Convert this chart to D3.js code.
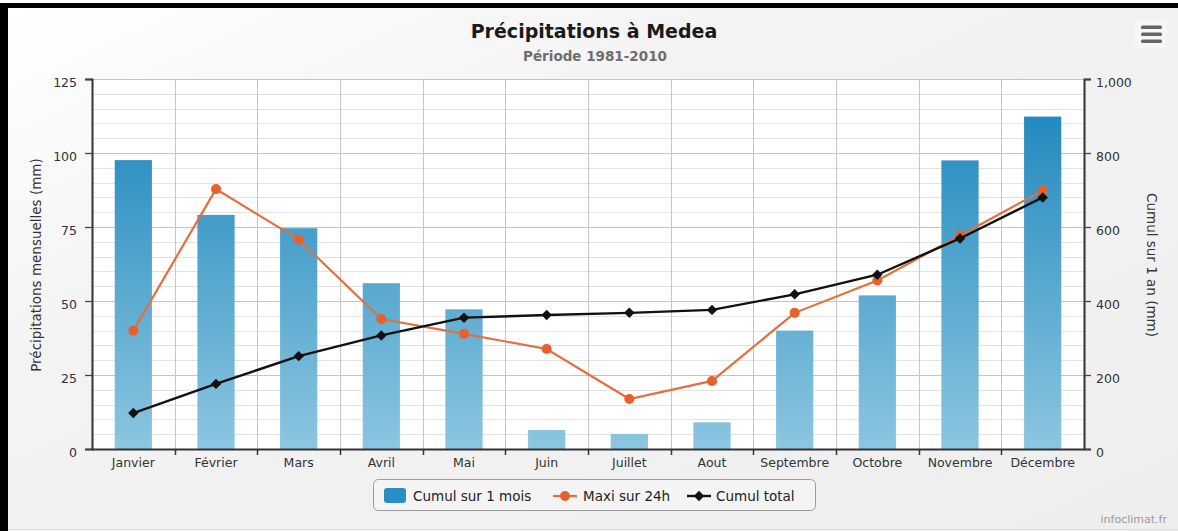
<!DOCTYPE html>
<html>
<head>
<meta charset="utf-8">
<script src="https://cdn.jsdelivr.net/npm/d3@7/dist/d3.min.js"></script>
<style>
  html, body { margin: 0; padding: 0; background: #fff; }
  svg { display: block; font-family: "DejaVu Sans", Verdana, sans-serif; }
</style>
</head>
<body>
<svg id="chart" width="1178" height="531"></svg>
<script>
// Monthly precipitation at Medea, 1981-2010 normals
const months = ["Janvier", "Février", "Mars", "Avril", "Mai", "Juin", "Juillet", "Aout", "Septembre", "Octobre", "Novembre", "Décembre"];
const cumulMois = [97.6, 79.1, 74.6, 56.0, 47.2, 6.4, 5.1, 9.0, 40.0, 51.9, 97.5, 112.3];   // mm, left axis
const maxi24h   = [40.0, 87.8, 70.8, 43.9, 38.9, 33.8, 16.9, 23.0, 46.0, 56.9, 72.1, 87.3];  // mm, left axis
const cumulTotal = [97, 176, 251, 307, 355, 362, 368, 376, 418, 471, 569, 680];             // mm, right axis
const leftTicks  = [0, 25, 50, 75, 100, 125];
const rightTicks = [0, 200, 400, 600, 800, 1000];

const svg = d3.select("#chart");
const W = 1178, H = 531;
const m = { left: 92, top: 79, right: 94, bottom: 82 };
const pw = W - m.left - m.right;   // 992
const ph = H - m.top - m.bottom;   // 370

const defs = svg.append("defs");
const bg = defs.append("linearGradient").attr("id", "bg")
  .attr("x1", 0).attr("y1", 0).attr("x2", 1).attr("y2", 1);
bg.append("stop").attr("offset", 0).attr("stop-color", "#ffffff");
bg.append("stop").attr("offset", 0.35).attr("stop-color", "#f3f3f3");
bg.append("stop").attr("offset", 1).attr("stop-color", "#eeeeee");

const barGrad = defs.append("linearGradient").attr("id", "barGrad")
  .attr("gradientUnits", "userSpaceOnUse")
  .attr("x1", 0).attr("y1", 0).attr("x2", 0).attr("y2", ph);
barGrad.append("stop").attr("offset", 0).attr("stop-color", "#1883bb");
barGrad.append("stop").attr("offset", 1).attr("stop-color", "#8cc6e0");

// chart background and frame
svg.append("rect").attr("width", W).attr("height", H).attr("fill", "url(#bg)");
svg.append("rect").attr("x", 0).attr("y", 3).attr("width", W).attr("height", 5).attr("fill", "#000");
svg.append("rect").attr("x", 0).attr("y", 3).attr("width", 8).attr("height", H - 3).attr("fill", "#000");
svg.append("rect").attr("x", 0).attr("y", 0).attr("width", W).attr("height", 3).attr("fill", "#fff");
svg.append("line").attr("x1", 8).attr("x2", W).attr("y1", 529.5).attr("y2", 529.5).attr("stroke", "#dcdcdc");

// titles
svg.append("text").attr("x", 594).attr("y", 38).attr("text-anchor", "middle")
  .attr("font-size", 19).attr("font-weight", "bold").attr("fill", "#1a1a1a")
  .text("Précipitations à Medea");
svg.append("text").attr("x", 595).attr("y", 61).attr("text-anchor", "middle")
  .attr("font-size", 13.5).attr("font-weight", "bold").attr("fill", "#6e6e6e")
  .text("Période 1981-2010");

// menu button
const menu = svg.append("g").attr("transform", "translate(1135,20)");
menu.append("rect").attr("width", 32).attr("height", 28).attr("rx", 3).attr("fill", "#f7f7f7");
[7, 14, 21].forEach(y => menu.append("rect").attr("x", 6).attr("y", y - 1.5)
  .attr("width", 21).attr("height", 3.5).attr("rx", 1.5).attr("fill", "#666"));

const g = svg.append("g").attr("transform", `translate(${m.left},${m.top})`);

const x = d3.scaleBand().domain(months).range([0, pw]);
const yL = d3.scaleLinear().domain([0, 125]).range([ph, 0]);
const yR = d3.scaleLinear().domain([0, 1000]).range([ph, 0]);

g.append("rect").attr("width", pw).attr("height", ph).attr("fill", "#fff");

// minor and major horizontal grid
g.append("g").selectAll("line").data(d3.range(0, 126, 5).filter(v => v % 25 !== 0)).join("line")
  .attr("x1", 0).attr("x2", pw).attr("y1", d => Math.round(yL(d)) + 0.5).attr("y2", d => Math.round(yL(d)) + 0.5)
  .attr("stroke", "#e2e2e2");
g.append("g").selectAll("line").data(leftTicks).join("line")
  .attr("x1", 0).attr("x2", pw).attr("y1", d => Math.round(yL(d)) + 0.5).attr("y2", d => Math.round(yL(d)) + 0.5)
  .attr("stroke", "#c4c4c4");
// vertical grid at category boundaries
g.append("g").selectAll("line").data(months.slice(1)).join("line")
  .attr("x1", d => Math.round(x(d)) + 0.5).attr("x2", d => Math.round(x(d)) + 0.5)
  .attr("y1", 0).attr("y2", ph).attr("stroke", "#c8c8c8");

// monthly bars
const barW = x.bandwidth() * 0.45;
g.append("g").selectAll("rect").data(months).join("rect")
  .attr("x", d => x(d) + (x.bandwidth() - barW) / 2)
  .attr("y", (d, i) => yL(cumulMois[i]))
  .attr("width", barW)
  .attr("height", (d, i) => ph - yL(cumulMois[i]))
  .attr("fill", "url(#barGrad)");

const cx = d => x(d) + x.bandwidth() / 2;

// maximum in 24h
const orange = "#e8612c";
g.append("path").datum(maxi24h)
  .attr("fill", "none").attr("stroke", "#e2703f").attr("stroke-width", 2.2)
  .attr("d", d3.line().x((d, i) => cx(months[i])).y(d => yL(d)));
g.append("g").selectAll("circle").data(maxi24h).join("circle")
  .attr("cx", (d, i) => cx(months[i])).attr("cy", d => yL(d)).attr("r", 5)
  .attr("fill", orange);

// running total
g.append("path").datum(cumulTotal)
  .attr("fill", "none").attr("stroke", "#111").attr("stroke-width", 2.4)
  .attr("d", d3.line().x((d, i) => cx(months[i])).y(d => yR(d)));
g.append("g").selectAll("path.dm").data(cumulTotal).join("path")
  .attr("class", "dm")
  .attr("d", d3.symbol().type(d3.symbolDiamond2).size(70))
  .attr("transform", (d, i) => `translate(${cx(months[i])},${yR(d)})`)
  .attr("fill", "#111");

// axes
const fmt = d3.format(",");
const axL = g.append("g").call(d3.axisLeft(yL).tickValues(leftTicks).tickSize(7).tickPadding(8));
const axR = g.append("g").attr("transform", `translate(${pw},0)`)
  .call(d3.axisRight(yR).tickValues(rightTicks).tickSize(7).tickPadding(5).tickFormat(fmt));
const axB = g.append("g").attr("transform", `translate(0,${ph})`)
  .call(d3.axisBottom(x).tickSize(0).tickPadding(9));
// tick marks at category boundaries
g.append("g").selectAll("line").data(months.slice(1)).join("line")
  .attr("x1", d => Math.round(x(d)) + 0.5).attr("x2", d => Math.round(x(d)) + 0.5)
  .attr("y1", ph).attr("y2", ph + 6).attr("stroke", "#333").attr("stroke-width", 1.5);

[axL, axR, axB].forEach(a => {
  a.select(".domain").attr("stroke", "#333").attr("stroke-width", 2);
  a.selectAll(".tick line").attr("stroke", "#444").attr("stroke-width", 1.3);
  a.selectAll(".tick text").attr("fill", "#333").attr("font-size", 12.5)
    .attr("font-family", "DejaVu Sans, sans-serif");
});
axL.selectAll(".tick text").attr("dy", "0.62em");
axR.selectAll(".tick text").attr("dy", "0.62em");
axB.select(".domain").attr("d", `M0,0.5H${pw}`);

// axis titles
svg.append("text").attr("transform", "translate(41,265) rotate(-90)").attr("text-anchor", "middle")
  .attr("font-size", 13.5).attr("fill", "#333").text("Précipitations mensuelles (mm)");
svg.append("text").attr("transform", "translate(1147,265) rotate(90)").attr("text-anchor", "middle")
  .attr("font-size", 13.5).attr("fill", "#333").text("Cumul sur 1 an (mm)");

// legend
const lg = svg.append("g");
lg.append("rect").attr("x", 373.5).attr("y", 479.5).attr("width", 442).attr("height", 31).attr("rx", 5)
  .attr("fill", "#f4f4f4").attr("stroke", "#9a9a9a");
lg.append("rect").attr("x", 384).attr("y", 488).attr("width", 22).attr("height", 15).attr("rx", 3).attr("fill", "#2a8ec2");
lg.append("text").attr("x", 413).attr("y", 501).attr("font-size", 13.5).attr("fill", "#222").text("Cumul sur 1 mois");
lg.append("line").attr("x1", 553).attr("x2", 577).attr("y1", 496).attr("y2", 496).attr("stroke", "#e2703f").attr("stroke-width", 2.2);
lg.append("circle").attr("cx", 565).attr("cy", 496).attr("r", 5).attr("fill", orange);
lg.append("text").attr("x", 583).attr("y", 501).attr("font-size", 13.5).attr("fill", "#222").text("Maxi sur 24h");
lg.append("line").attr("x1", 687).attr("x2", 711).attr("y1", 496).attr("y2", 496).attr("stroke", "#111").attr("stroke-width", 2.4);
lg.append("path").attr("d", d3.symbol().type(d3.symbolDiamond2).size(70)).attr("transform", "translate(699,496)").attr("fill", "#111");
lg.append("text").attr("x", 716).attr("y", 501).attr("font-size", 13.5).attr("fill", "#222").text("Cumul total");

// credit
svg.append("text").attr("x", 1167).attr("y", 523).attr("text-anchor", "end")
  .attr("font-size", 11).attr("fill", "#999").text("infoclimat.fr");
</script>
</body>
</html>
